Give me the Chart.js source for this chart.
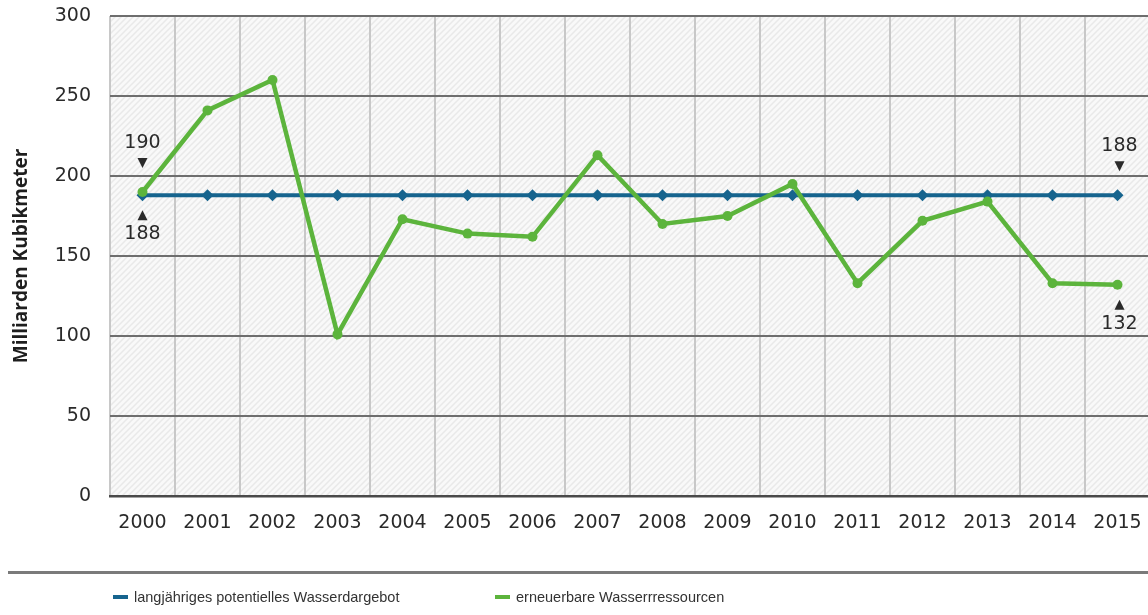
<!DOCTYPE html>
<html>
<head>
<meta charset="utf-8">
<script src="https://cdn.jsdelivr.net/npm/chart.js@4"></script>
<style>
  html, body { margin: 0; padding: 0; background: #fff; overflow: hidden; }
  #wrap { position: relative; width: 1148px; height: 615px; overflow: hidden; }
  #chart { position: absolute; left: 0; top: 0; }
  .rule { position: absolute; left: 8px; right: 0; top: 571px; height: 3px; background: #7a7a7a; }
  .key { position: absolute; top: 589px; font-family: 'Liberation Sans Narrow', 'Liberation Sans', sans-serif;
         font-size: 14.5px; color: #333; white-space: nowrap; line-height: 16px; }
  .key i { display: inline-block; width: 15px; height: 4px; vertical-align: middle; margin-right: 6px; position: relative; top: -1px; }
</style>
</head>
<body>
<div id="wrap">
  <canvas id="chart" width="1156" height="615" style="width:1156px;height:615px"></canvas>
  <div class="rule"></div>
  <div class="key" style="left:113px"><i style="background:#16648e"></i>langjähriges potentielles Wasserdargebot</div>
  <div class="key" style="left:495px"><i style="background:#5cb43c"></i>erneuerbare Wasserrressourcen</div>
</div>
<script>
const years = ['2000', '2001', '2002', '2003', '2004', '2005', '2006', '2007',
               '2008', '2009', '2010', '2011', '2012', '2013', '2014', '2015'];
// long-term potential water supply (bn m³)
const potentialSupply = [188, 188, 188, 188, 188, 188, 188, 188,
                         188, 188, 188, 188, 188, 188, 188, 188];
// renewable water resources (bn m³)
const renewable = [190, 241, 260, 101, 173, 164, 162, 213,
                   170, 175, 195, 133, 172, 184, 133, 132];
const yMin = 0, yMax = 300, yStep = 50;

// value callouts at both ends: [series, index, above/below]
const callouts = [
  [renewable, 0, 'above'],
  [potentialSupply, 0, 'below'],
  [potentialSupply, 15, 'above'],
  [renewable, 15, 'below']
];

const BLUE = '#16648e';
const GREEN = '#5cb43c';
const tickFont = { family: "'DejaVu Sans', sans-serif", size: 19 };

function hatchPattern(ctx) {
  const c = document.createElement('canvas');
  c.width = 6; c.height = 6;
  const p = c.getContext('2d');
  p.fillStyle = '#f9f9f9';
  p.fillRect(0, 0, 6, 6);
  p.strokeStyle = '#e9e9e9';
  p.lineWidth = 1.5;
  p.beginPath();
  p.moveTo(-1, 7); p.lineTo(7, -1);
  p.moveTo(-4, 4); p.lineTo(4, -4);
  p.moveTo(2, 10); p.lineTo(10, 2);
  p.stroke();
  return ctx.createPattern(c, 'repeat');
}

const backdrop = {
  id: 'backdrop',
  beforeDraw(chart) {
    const { ctx, chartArea: a } = chart;
    ctx.save();
    ctx.fillStyle = hatchPattern(ctx);
    ctx.fillRect(a.left, a.top, a.right - a.left, a.bottom - a.top);
    ctx.restore();
  }
};

const extras = {
  id: 'extras',
  afterDraw(chart) {
    const { ctx, chartArea: a } = chart;
    const x = chart.scales.x, y = chart.scales.y;

    // y axis title
    ctx.save();
    ctx.translate(22, (a.top + a.bottom) / 2);
    ctx.rotate(-Math.PI / 2);
    ctx.font = "bold 19px 'Open Sans', sans-serif";
    ctx.fillStyle = '#1e1e1e';
    ctx.textAlign = 'center';
    ctx.textBaseline = 'middle';
    ctx.fillText('Milliarden Kubikmeter', 0, 0);
    ctx.restore();

    // end callouts with small triangles
    ctx.save();
    ctx.font = "19px 'DejaVu Sans', sans-serif";
    ctx.fillStyle = '#2a2a2a';
    ctx.textAlign = 'center';
    ctx.textBaseline = 'middle';
    callouts.forEach(([series, i, side]) => {
      const v = series[i];
      const px = x.getPixelForValue(i) + (i === 0 ? 0 : 2);
      const py = y.getPixelForValue(v);
      ctx.beginPath();
      if (side === 'above') {
        const ty = py - 29;
        ctx.moveTo(px - 5, ty - 5); ctx.lineTo(px + 5, ty - 5); ctx.lineTo(px, ty + 5);
        ctx.fill();
        ctx.fillText(String(v), px, py - 49);
      } else {
        const ty = py + 20;
        ctx.moveTo(px - 5, ty + 5); ctx.lineTo(px + 5, ty + 5); ctx.lineTo(px, ty - 5);
        ctx.fill();
        ctx.fillText(String(v), px, py + 39);
      }
    });
    ctx.restore();
  }
};

new Chart(document.getElementById('chart'), {
  type: 'line',
  data: {
    labels: years,
    datasets: [
      {
        label: 'erneuerbare Wasserrressourcen',
        data: renewable,
        borderColor: GREEN,
        backgroundColor: GREEN,
        borderWidth: 4.5,
        pointRadius: 5,
        pointBackgroundColor: GREEN,
        pointBorderWidth: 0,
        tension: 0,
        order: 0
      },
      {
        label: 'langjähriges potentielles Wasserdargebot',
        data: potentialSupply,
        borderColor: BLUE,
        backgroundColor: BLUE,
        borderWidth: 4,
        pointStyle: 'rectRot',
        pointRadius: 6,
        pointBackgroundColor: BLUE,
        pointBorderWidth: 0,
        tension: 0,
        order: 1
      }
    ]
  },
  options: {
    responsive: false,
    animation: false,
    layout: { padding: { top: 16, right: 2, left: 0, bottom: 0 } },
    plugins: {
      legend: { display: false },
      tooltip: { enabled: false }
    },
    scales: {
      x: {
        offset: true,
        grid: { color: '#c8c8c8', lineWidth: 2, drawTicks: false, offset: true },
        border: { color: '#4a4a4a', width: 2.5 },
        ticks: { font: tickFont, color: '#2a2a2a', padding: 16, maxRotation: 0 },
        afterFit(s) { s.height = 119; s.paddingLeft = 0; s.paddingRight = 0; }
      },
      y: {
        min: yMin,
        max: yMax,
        grid: { color: '#6e6e6e', lineWidth: 2, drawTicks: false },
        border: { display: false },
        ticks: { stepSize: yStep, font: tickFont, color: '#2a2a2a', padding: 19 },
        afterFit(s) { s.width = 110; s.paddingTop = 0; s.paddingBottom = 0; }
      }
    }
  },
  plugins: [backdrop, extras]
});
</script>
</body>
</html>
